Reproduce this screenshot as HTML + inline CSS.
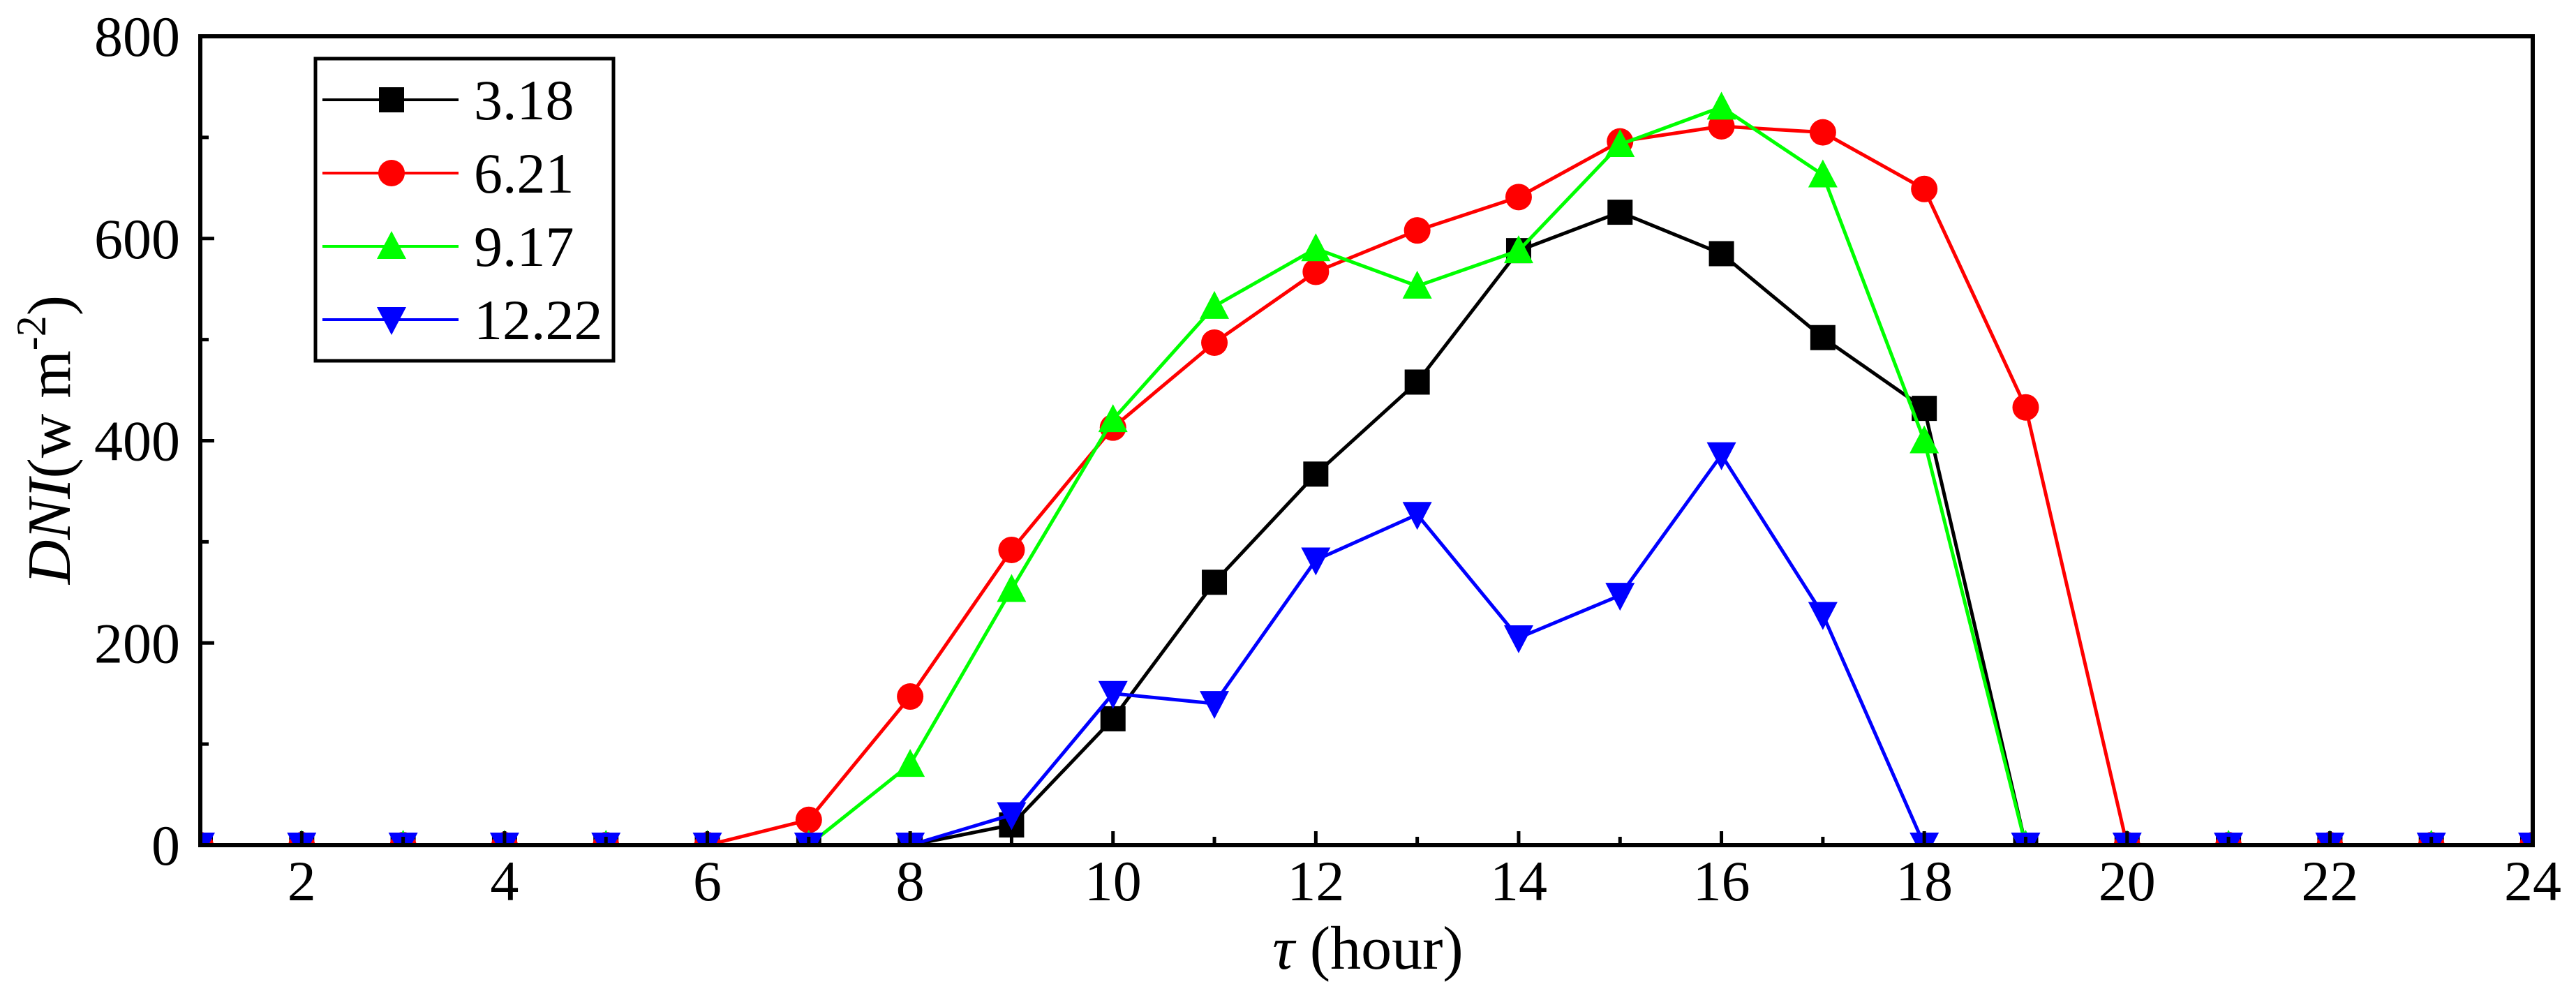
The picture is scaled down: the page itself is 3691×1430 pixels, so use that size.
<!DOCTYPE html>
<html><head><meta charset="utf-8"><style>
html,body{margin:0;padding:0;background:#fff;}
svg{display:block;font-family:"Liberation Serif",serif;}
</style></head><body>
<svg id="chart" width="3691" height="1430" viewBox="0 0 3691 1430" xmlns="http://www.w3.org/2000/svg">
<defs><clipPath id="pc"><rect x="287" y="52" width="3342" height="1159"/></clipPath></defs>
<g id="grid"></g>
<g id="series" clip-path="url(#pc)"></g>
<rect x="287" y="52" width="3342" height="1159" fill="none" stroke="#000" stroke-width="6"/>
<g id="ticks"></g>
<text x="1960" y="1388" font-size="88" text-anchor="middle"><tspan font-style="italic">τ</tspan> (hour)</text>
<text transform="translate(100,630) rotate(-90)" font-size="88" text-anchor="middle"><tspan font-style="italic">DNI</tspan>(w m<tspan dy="-35" font-size="60">-2</tspan><tspan dy="35">)</tspan></text>
<g id="legend"></g>
</svg>
<script>
const hours=[1,2,3,4,5,6,7,8,9,10,11,12,13,14,15,16,17,18,19,20,21,22,23,24];
const s318=[0,0,0,0,0,0,0,0,20,125,260,367,458,588,626,585,502,432,0,0,0,0,0,0];
const s621=[0,0,0,0,0,0,25,147,292,413,497,567,608,641,696,711,705,649,433,0,0,0,0,0];
const s917=[0,0,0,0,0,0,0,80,253,421,533,590,553,588,693,730,663,400,0,0,0,0,0,0];
const s1222=[0,0,0,0,0,0,0,0,30,150,140,282,327,205,247,386,228,0,0,0,0,0,0,0];
const seriesNames=["3.18","6.21","9.17","12.22"];
const xTicks=[2,4,6,8,10,12,14,16,18,20,22,24];
const yTicks=[0,200,400,600,800];
const NS="http://www.w3.org/2000/svg";
const X0=287,X1=3629,Y0=1211,Y1=52;
const sx=v=>X0+(v-1)/(24-1)*(X1-X0);
const sy=v=>Y0-(v/800)*(Y0-Y1);
function mk(t,a,p){const e=document.createElementNS(NS,t);for(const k in a)e.setAttribute(k,a[k]);p.appendChild(e);return e;}
const ticks=document.getElementById('ticks');
for(let h=1;h<=24;h++){
 const len=h%2===0?20:12;
 const t=mk('line',{x1:sx(h),x2:sx(h),y1:Y0,y2:Y0-len,stroke:'#000','stroke-width':5},ticks);
 
 
}
xTicks.forEach(v=>{const t=mk('text',{x:sx(v),y:1290,'font-size':82,'text-anchor':'middle'},ticks);t.textContent=v;
 
 });
for(let v=0;v<=800;v+=100){
 const len=v%200===0?20:12;
 const t=mk('line',{x1:X0,x2:X0+len,y1:sy(v),y2:sy(v),stroke:'#000','stroke-width':5},ticks);
 
 
}
yTicks.forEach(v=>{const t=mk('text',{x:258,y:sy(v)+28,'font-size':82,'text-anchor':'end'},ticks);t.textContent=v;
 
 });
const colors=['#000','#f00','#0f0','#00f'];
const shapes=['square','circle','up','down'];
function marker(shape,x,y,c,p){
 const r=18;
 if(shape==='square')return mk('rect',{x:x-r,y:y-r,width:2*r,height:2*r,fill:c},p);
 if(shape==='circle')return mk('ellipse',{cx:x,cy:y,rx:r+1,ry:r+1,fill:c},p);
 if(shape==='up')return mk('polygon',{points:`${x},${y-r-4} ${x-r-3},${y+r} ${x+r+3},${y+r}`,fill:c},p);
 return mk('polygon',{points:`${x},${y+r+4} ${x-r-3},${y-r} ${x+r+3},${y-r}`,fill:c},p);
}
const all=[s318,s621,s917,s1222];
const sg=document.getElementById('series');
all.forEach((arr,i)=>{
 const g=mk('g',{},sg);
 
 
 const pl=mk('polyline',{points:arr.map((v,j)=>sx(hours[j])+','+sy(v)).join(' '),fill:'none',stroke:colors[i],'stroke-width':5,'stroke-linejoin':'miter'},g);
 
 
 arr.forEach((v,j)=>{const m=marker(shapes[i],sx(hours[j]),sy(v),colors[i],g);
  
  });
});
const lg=document.getElementById('legend');


mk('rect',{x:452,y:84,width:427,height:433,fill:'#fff',stroke:'#000','stroke-width':5},lg);
seriesNames.forEach((n,i)=>{
 const y=143+i*105;
 const g=mk('g',{},lg);
 
 
 mk('line',{x1:462,x2:657,y1:y,y2:y,stroke:colors[i],'stroke-width':4},g);
 marker(shapes[i],561,y,colors[i],g);
 const t=mk('text',{x:679,y:y+28,'font-size':82},g);t.textContent=n;
});
</script>
</body></html>
